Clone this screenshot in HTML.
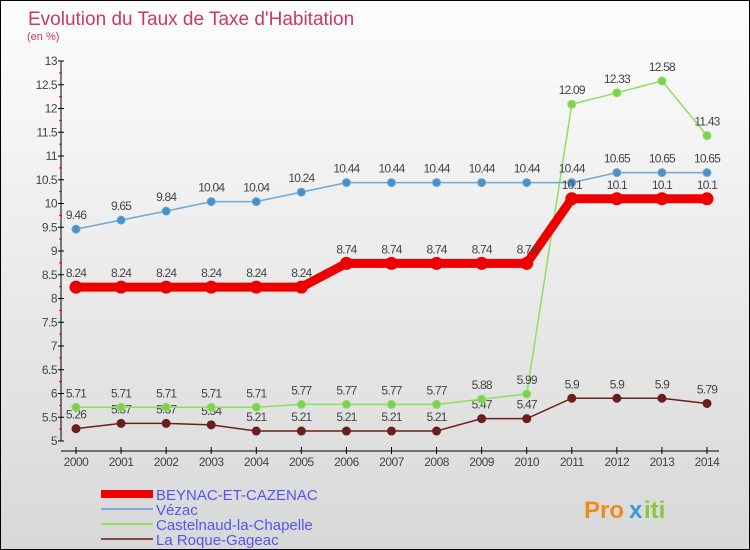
<!DOCTYPE html>
<html><head><meta charset="utf-8"><style>
body{margin:0}
#c{width:750px;height:550px;position:relative;overflow:hidden;border:1px solid #000;box-sizing:border-box;background:linear-gradient(#fdfdfd,#d8d8d8);font-family:"Liberation Sans",sans-serif}
</style></head><body>
<div id="c">
<svg id="s" width="750" height="550"></svg>
</div>
<script>
const years=[2000,2001,2002,2003,2004,2005,2006,2007,2008,2009,2010,2011,2012,2013,2014];
const beynac=[8.24,8.24,8.24,8.24,8.24,8.24,8.74,8.74,8.74,8.74,8.74,10.1,10.1,10.1,10.1];
const vezac=[9.46,9.65,9.84,10.04,10.04,10.24,10.44,10.44,10.44,10.44,10.44,10.44,10.65,10.65,10.65];
const castel=[5.71,5.71,5.71,5.71,5.71,5.77,5.77,5.77,5.77,5.88,5.99,12.09,12.33,12.58,11.43];
const roque=[5.26,5.37,5.37,5.34,5.21,5.21,5.21,5.21,5.21,5.47,5.47,5.9,5.9,5.9,5.79];
const yTicks=[5,5.5,6,6.5,7,7.5,8,8.5,9,9.5,10,10.5,11,11.5,12,12.5,13];
const seriesNames=["BEYNAC-ET-CAZENAC","Vézac","Castelnaud-la-Chapelle","La Roque-Gageac"];
const NS="http://www.w3.org/2000/svg";const s=document.getElementById('s');
const X=i=>75+i*(631/14);const Y=v=>440-(v-5)*47.5;
function el(t,a,txt){const e=document.createElementNS(NS,t);for(const k in a)e.setAttribute(k,a[k]);if(txt!==undefined)e.textContent=txt;s.appendChild(e);return e;}
let e;
e=el('text',{x:27,y:24,'font-size':19,fill:'#c8386a'},"Evolution du Taux de Taxe d'Habitation");

e=el('text',{x:26,y:39,'font-size':11,fill:'#c8386a'},"(en %)");

e=el('line',{x1:60,y1:60,x2:60,y2:440,stroke:'#000'});

yTicks.forEach(v=>{el('line',{x1:57,y1:Y(v),x2:63,y2:Y(v),stroke:'#000'});
 if(v<13)el('line',{x1:58,y1:Y(v+0.25),x2:61,y2:Y(v+0.25),stroke:'#e00'});
 e=el('text',{x:56,y:Y(v)+4,'font-size':12,fill:'#444','text-anchor':'end','letter-spacing':'-0.5'},String(v));
 });
e=el('line',{x1:60,y1:450,x2:718,y2:450,stroke:'#000'});

years.forEach((y,i)=>{el('line',{x1:X(i),y1:446,x2:X(i),y2:453,stroke:'#000'});
 e=el('text',{x:X(i),y:465,'font-size':12,fill:'#444','text-anchor':'middle','letter-spacing':'-0.5'},String(y));
 });
function series(d,col,w,r,dot,name){
 e=el('polyline',{points:d.map((v,i)=>X(i)+','+Y(v)).join(' '),fill:'none',stroke:col,'stroke-width':w});
 
 d.forEach((v,i)=>{e=el('circle',{cx:X(i),cy:Y(v),r:r,fill:dot,stroke:col});
  
  e=el('text',{x:X(i),y:Y(v)-10,'font-size':12,fill:'#444','text-anchor':'middle','letter-spacing':'-0.8'},String(v));
  });
}
series(roque,'#6b1e1e',1.5,4,'#6b1e1e','la-roque-gageac');
series(castel,'#8ddf60',1.5,4,'#7ed04f','castelnaud');
series(vezac,'#6fa8d6',1.5,4,'#4a90c8','vezac');
series(beynac,'#ee0000',9,6,'#ee0000','beynac');
const lc=['#ee0000','#7aaed6','#8ddf60','#8b4a4a'],lw=[8,2,2,2];
seriesNames.forEach((n,i)=>{const y=493+i*15;
 e=el('line',{x1:100,y1:y,x2:152,y2:y,stroke:lc[i],'stroke-width':lw[i]});
 
 e=el('text',{x:155,y:y+6,'font-size':15,fill:'#5555ee'},n);
 });
e=el('text',{x:583,y:517,'font-size':24,'font-weight':'bold',fill:'#f08a20'},"Pro");

el('text',{x:628,y:517,'font-size':24,'font-weight':'bold',fill:'#3a9ad6'},"x");
el('text',{x:643,y:517,'font-size':24,'font-weight':'bold',fill:'#8cc63f'},"iti");
</script>
</body></html>
